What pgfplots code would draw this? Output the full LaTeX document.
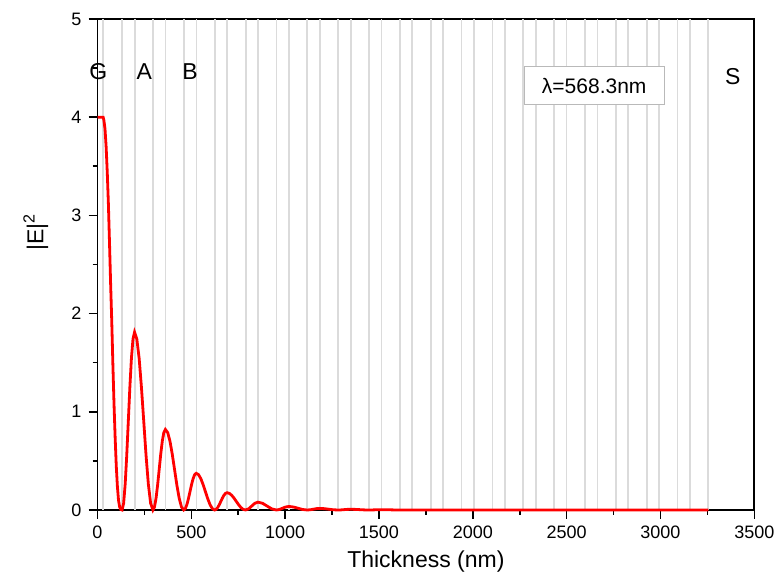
\documentclass[border=0pt]{standalone}
\usepackage{fontspec}
\setmainfont{Liberation Sans}
\usepackage{pgfplots}
\pgfplotsset{compat=1.18}

\begin{document}
\begin{tikzpicture}
\begin{axis}[
    scale only axis,
    width=328.4pt, height=245.5pt,
    xmin=0, xmax=3500, ymin=0, ymax=5,
    xtick={0,500,...,3500}, ytick={0,1,...,5},
    minor x tick num=1, minor y tick num=1,
    tick align=outside,
    major tick length=4.5pt, minor tick length=2.5pt,
    xtick pos=left, ytick pos=left,
    axis line style={line width=0.9pt},
    tick style={line width=0.8pt, black},
    ticklabel style={font=\fontsize{9}{10}\selectfont},
    /pgf/number format/assume math mode=true,
    /pgf/number format/set thousands separator={},
    xlabel={Thickness (nm)},
    ylabel={|E|\textsuperscript{2}},
    label style={font=\fontsize{11.5}{13}\selectfont},
    xlabel style={at={(axis description cs:0.5,0)}, anchor=center, yshift=-26pt},
    ylabel style={at={(axis description cs:-0.094,0.566)}, anchor=center},
    % layer boundaries of the stack
    extra x ticks={28,132,198.4,296.4,362.8,460.7,527.1,625.1,691.5,789.5,855.9,
        953.9,1020.3,1118.2,1184.6,1282.6,1349.0,1447.0,1513.4,1611.3,1677.7,
        1775.7,1842.1,1940.1,2006.5,2104.4,2170.8,2268.8,2335.2,2433.2,2499.6,
        2597.6,2664.0,2761.9,2828.3,2926.3,2992.7,3090.7,3157.1,3255.0},
    extra x tick labels={},
    extra x tick style={grid=major, major tick length=0pt,
        major grid style={gray!28, line width=0.9pt}},
    clip=false,
]

% |E|^2 through the stack
\addplot[red, line width=1.4pt] coordinates {
    (0,4.00) (30,4.00) (34,3.97) (40,3.88) (46,3.70) (52,3.44) (58,3.12)
    (64,2.72) (70,2.30) (76,1.92) (82,1.48) (88,1.08) (94,0.74) (100,0.45)
    (106,0.24) (112,0.10) (118,0.03) (124,0.005) (131,0)
    (139.3,0.069) (147.6,0.265) (155.9,0.559) (164.2,0.905) (172.5,1.251)
    (180.8,1.545) (189.1,1.741) (197.4,1.81)
    (209.6,1.741) (221.9,1.545) (234.1,1.251) (246.4,0.905) (258.6,0.559)
    (270.9,0.265) (283.1,0.069) (295.4,0)
    (303.7,0.031) (312.0,0.120) (320.3,0.253) (328.6,0.41) (336.9,0.567)
    (345.2,0.700) (353.5,0.789) (361.8,0.82)
    (374.0,0.789) (386.3,0.700) (398.5,0.567) (410.8,0.41) (423.0,0.253)
    (435.3,0.120) (447.5,0.031) (459.7,0)
    (468.0,0.0142) (476.3,0.0548) (484.6,0.1154) (492.9,0.187) (501.2,0.2585)
    (509.5,0.3192) (517.8,0.3597) (526.1,0.374)
    (538.4,0.3597) (550.6,0.3192) (562.9,0.2585) (575.1,0.187) (587.4,0.1154)
    (599.6,0.0548) (611.9,0.0142) (624.1,0)
    (632.4,0.0067) (640.7,0.0258) (649.0,0.0543) (657.3,0.088) (665.6,0.1217)
    (673.9,0.1502) (682.2,0.1693) (690.5,0.176)
    (702.8,0.1693) (715.0,0.1502) (727.3,0.1217) (739.5,0.088) (751.8,0.0543)
    (764.0,0.0258) (776.3,0.0067) (788.5,0)
    (805.1,0.0117) (821.7,0.04) (838.3,0.0683) (854.9,0.08)
    (879.4,0.0683) (903.9,0.04) (928.4,0.0117) (952.9,0)
    (969.5,0.0053) (986.1,0.018) (1002.7,0.0307) (1019.3,0.036)
    (1043.8,0.0307) (1068.3,0.018) (1092.8,0.0053) (1117.2,0)
    (1133.8,0.0023) (1150.4,0.008) (1167.0,0.0137) (1183.6,0.016)
    (1208.1,0.0137) (1232.6,0.008) (1257.1,0.0023) (1281.6,0)
    (1298.2,0.0011) (1314.8,0.0037) (1331.4,0.0062) (1348.0,0.0073)
    (1372.5,0.0062) (1397.0,0.0037) (1421.5,0.0011) (1446.0,0)
    (1462.6,0.0005) (1479.2,0.0017) (1495.8,0.0028) (1512.4,0.0033)
    (1536.9,0.0028) (1561.4,0.0017) (1585.9,0.0005) (1610.3,0)
    (3255,0)
};

\node[font=\fontsize{11.5}{13}\selectfont] at (axis cs:4,4.46) {G};
\node[font=\fontsize{11.5}{13}\selectfont] at (axis cs:249,4.46) {A};
\node[font=\fontsize{11.5}{13}\selectfont] at (axis cs:493,4.46) {B};
\node[font=\fontsize{11.5}{13}\selectfont] at (axis cs:3385,4.41) {S};
\node[draw=gray!55, line width=0.5pt, fill=white, inner sep=2pt,
      minimum width=70pt, minimum height=19pt,
      font=\fontsize{10.5}{12}\selectfont] at (axis cs:2647,4.32) {λ=568.3nm};
\end{axis}
\path (-48.75pt,-36.5pt) rectangle (342.25pt,255pt);
\end{tikzpicture}
\end{document}
